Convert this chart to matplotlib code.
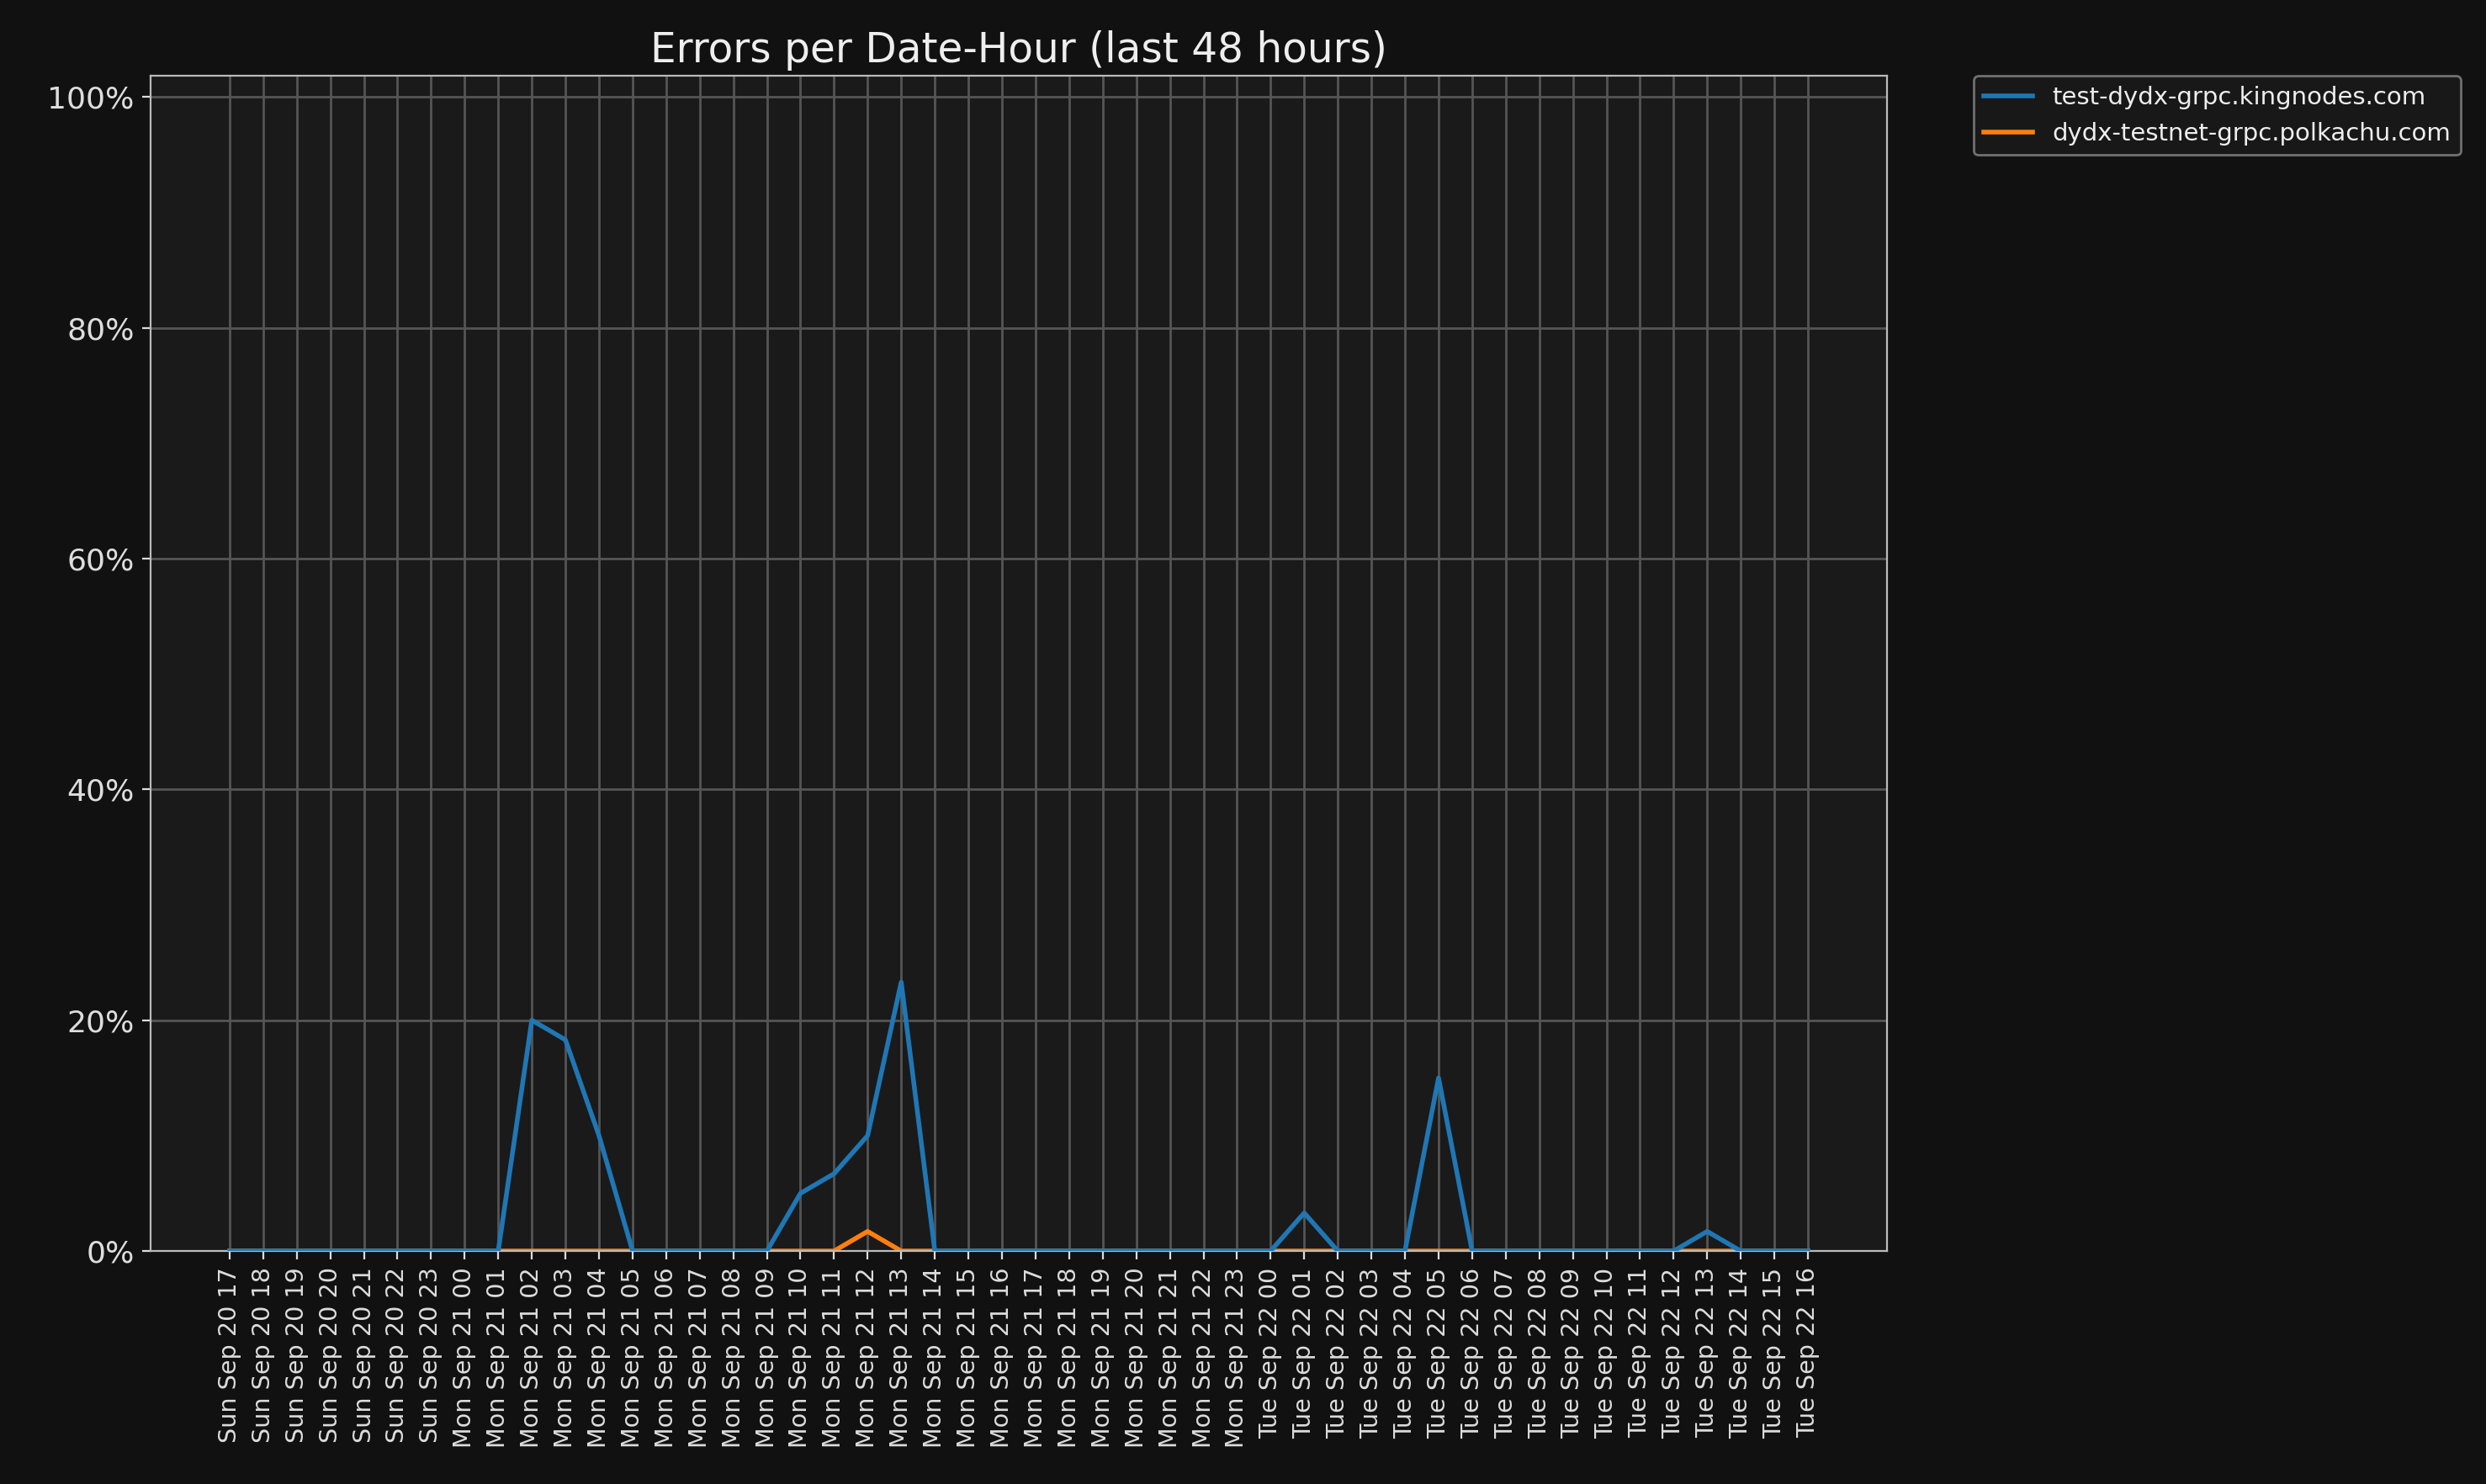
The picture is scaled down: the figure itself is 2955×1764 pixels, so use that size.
import matplotlib
matplotlib.use("Agg")
import matplotlib.pyplot as plt
from matplotlib.ticker import PercentFormatter

labels = (["Sun Sep 20 %02d" % h for h in range(17, 24)] +
          ["Mon Sep 21 %02d" % h for h in range(0, 24)] +
          ["Tue Sep 22 %02d" % h for h in range(0, 17)])

kingnodes = [0,0,0,0,0,0,0, 0,0, 20,18.3,10,0, 0,0,0,0, 5,6.7,10,23.3, 0,0,0,0,0,0,0,0,0,0,
             0,3.3,0,0,0,15,0, 0,0,0,0,0,0, 1.7,0,0,0]
polkachu = [0]*48
polkachu[labels.index("Mon Sep 21 12")] = 1.7

fig = plt.figure(figsize=(14.775, 8.82), dpi=200, facecolor="#111111")
ax = fig.add_axes([0.0606, 0.157, 0.6984, 0.7917], facecolor="#1a1a1a")
x = range(len(labels))
ax.plot(x, kingnodes, color="#1f77b4", lw=2.0, label="test-dydx-grpc.kingnodes.com", zorder=3)
ax.plot(x, polkachu, color="#ff7f0e", lw=2.0, label="dydx-testnet-grpc.polkachu.com", zorder=2)
ax.set_xticks(list(x))
ax.set_xticklabels(labels, rotation=90, fontsize=10.3, color="#dddddd")
ax.set_ylim(0, 101.8)
ax.set_yticks([0, 20, 40, 60, 80, 100])
ax.yaxis.set_major_formatter(PercentFormatter(decimals=0))
ax.tick_params(axis="y", labelsize=13, colors="#dddddd")
ax.tick_params(axis="x", colors="#dddddd")
ax.grid(True, color="#555555", lw=1.0)
ax.set_axisbelow(True)
for s in ax.spines.values():
    s.set_color("#bbbbbb")
ax.set_title("Errors per Date-Hour (last 48 hours)", color="#eeeeee", fontsize=17.5)
leg = ax.legend(loc="upper left", bbox_to_anchor=(1.05, 1.0), fontsize=10.5,
                facecolor="#1a1a1a", edgecolor="#888888", labelcolor="#eeeeee", borderaxespad=0)
fig.savefig("out.png", facecolor=fig.get_facecolor())
